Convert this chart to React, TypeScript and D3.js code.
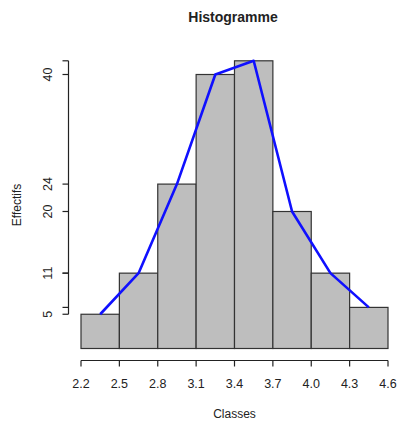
import React from "react";
import * as d3 from "d3";

const breaks = [2.2, 2.5, 2.8, 3.1, 3.4, 3.7, 4.0, 4.3, 4.6];
const counts = [5, 11, 24, 40, 42, 20, 11, 6];
const xTickLabels = ["2.2", "2.5", "2.8", "3.1", "3.4", "3.7", "4.0", "4.3", "4.6"];
const yTicks = [5, 11, 24, 40, 42, 20, 11, 6];
const yTickLabels = [5, 11, 20, 24, 40];
const title = "Histogramme";
const xTitle = "Classes";
const yTitle = "Effectifs";

const W = 397;
const H = 421;

export default function App() {
  const x = d3.scaleLinear().domain([2.2, 4.6]).range([81, 388]);
  const y = d3.scaleLinear().domain([0, 42]).range([348.5, 60.8]);
  const mids = counts.map((c, i) => [(breaks[i] + breaks[i + 1]) / 2, c] as [number, number]);
  const line = d3.line<[number, number]>().x((d) => x(d[0])).y((d) => y(d[1]));
  const axisY = 360.5;
  const axisX = 68.5;
  const font = "'Liberation Sans', Arial, sans-serif";
  return (
    <div style={{ position: "absolute", left: 0, top: 0 }}>
      <svg width={W} height={H} style={{ display: "block", background: "#fff" }} fontFamily={font}>
        {counts.map((c, i) => (
          <rect
            key={i}
            x={x(breaks[i])}
            y={y(c)}
            width={x(breaks[i + 1]) - x(breaks[i])}
            height={y(0) - y(c)}
            fill="#bebebe"
            stroke="#333"
            strokeWidth={1.2}
          />
        ))}
        <path d={line(mids) || ""} fill="none" stroke="#1010ff" strokeWidth={2.6} strokeLinejoin="round" />
        <line x1={x(breaks[0])} x2={x(breaks[breaks.length - 1])} y1={axisY} y2={axisY} stroke="#222" strokeWidth={1.2} />
        {breaks.map((b, i) => (
          <g key={i}>
            <line x1={x(b)} x2={x(b)} y1={axisY} y2={axisY + 6} stroke="#222" strokeWidth={1.2} />
            <text x={x(b)} y={388} textAnchor="middle" fontSize={12.5} fill="#222">
              {xTickLabels[i]}
            </text>
          </g>
        ))}
        <line x1={axisX} x2={axisX} y1={y(d3.max(yTicks)!)} y2={y(d3.min(yTicks)!)} stroke="#222" strokeWidth={1.2} />
        {yTicks.map((t, i) => (
          <line key={i} x1={axisX - 6} x2={axisX} y1={y(t)} y2={y(t)} stroke="#222" strokeWidth={1.2} />
        ))}
        {yTickLabels.map((t, i) => (
          <text
            key={i}
            transform={`translate(52,${y(t)}) rotate(-90)`}
            textAnchor="middle"
            fontSize={12.5}
            fill="#222"
          >
            {t}
          </text>
        ))}
        <text x={233} y={22} textAnchor="middle" fontSize={14} fontWeight="bold" fill="#222">
          {title}
        </text>
        <text x={234.5} y={418} textAnchor="middle" fontSize={12} fill="#222">
          {xTitle}
        </text>
        <text transform={`translate(21,205) rotate(-90)`} textAnchor="middle" fontSize={12} fill="#222">
          {yTitle}
        </text>
      </svg>
    </div>
  );
}
